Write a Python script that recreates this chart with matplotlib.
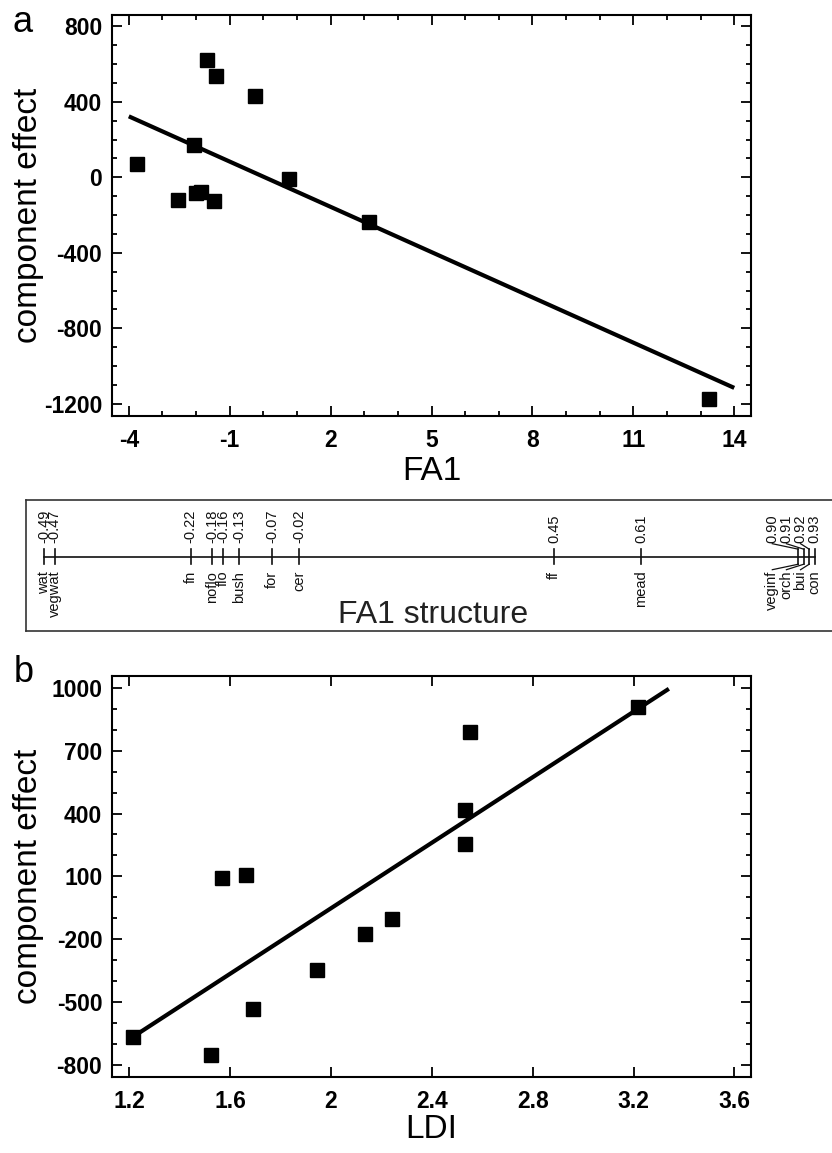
import numpy as np
import matplotlib
matplotlib.use("Agg")
import matplotlib.pyplot as plt
from matplotlib.ticker import MultipleLocator, FixedLocator, FuncFormatter

plt.rcParams['font.family'] = ['Liberation Sans', 'DejaVu Sans']

# --------------------------------- Data -------------------------------- #
# panel a : component effect vs FA1
fa1_x = [-3.76, -2.53, -2.06, -2.0, -1.86, -1.67, -1.41, -1.48, -0.26, 0.75, 3.13, 13.25]
fa1_y = [72, -118, 170, -83, -80, 620, 539, -125, 429, -9, -239, -1173]
fa1_fit_x = [-4, 14]
fa1_fit_y = [323, -1116]

# FA1 structure (loadings)
struct_names = ["wat", "vegwat", "fn", "noflo", "flo", "bush", "for", "cer",
                "ff", "mead", "veginf", "orch", "bui", "con"]
struct_vals = [-0.49, -0.47, -0.22, -0.18, -0.16, -0.13, -0.07, -0.02,
               0.45, 0.61, 0.90, 0.91, 0.92, 0.93]

# panel b : component effect vs LDI
ldi_x = [1.216, 1.523, 1.692, 1.944, 2.133, 2.24, 1.566, 1.661, 2.552, 2.53, 2.53, 3.216]
ldi_y = [-665, -752, -534, -347, -177, -104, 91, 106, 787, 417, 253, 909]
ldi_fit_x = [1.22, 3.34]
ldi_fit_y = [-661, 995]

# ------------------------------- Helpers ------------------------------- #
TICK_FS = 16.5
LABEL_FS = 24


def style_axes(ax):
    for s in ax.spines.values():
        s.set_linewidth(1.5)
    ax.tick_params(which='both', direction='in', top=True, right=True, width=1.3)
    ax.tick_params(which='major', length=7)
    ax.tick_params(which='minor', length=3.5)
    ax.tick_params(axis='y', pad=7)
    ax.tick_params(axis='x', pad=9)
    for lab in ax.get_xticklabels() + ax.get_yticklabels():
        lab.set_fontweight('bold')
        lab.set_fontsize(TICK_FS)
    fmt = FuncFormatter(lambda v, p: f"{v:g}")
    ax.xaxis.set_major_formatter(fmt)
    ax.yaxis.set_major_formatter(fmt)


fig = plt.figure(figsize=(8.32, 11.53), dpi=100)

# ------------------------------- Panel a ------------------------------- #
ax1 = fig.add_axes([0.1346, 0.6392, 0.7681, 0.3478])
ax1.plot(fa1_fit_x, fa1_fit_y, color='black', lw=3, solid_capstyle='butt')
ax1.plot(fa1_x, fa1_y, 's', color='black', ms=10)
ax1.set_xlim(-4.5, 14.5)
ax1.set_ylim(-1265, 860)
ax1.xaxis.set_major_locator(FixedLocator([-4, -1, 2, 5, 8, 11, 14]))
ax1.xaxis.set_minor_locator(MultipleLocator(1))
ax1.yaxis.set_major_locator(FixedLocator([-1200, -800, -400, 0, 400, 800]))
ax1.yaxis.set_minor_locator(MultipleLocator(100))
style_axes(ax1)
ax1.set_xlabel("FA1", fontsize=LABEL_FS, labelpad=3)
ax1.set_ylabel("component effect", fontsize=LABEL_FS)
ax1.yaxis.set_label_coords(-0.107, 0.5)

# ---------------------------- FA1 structure ---------------------------- #
axs = fig.add_axes([0.03125, 0.45273, 0.97, 0.11362])
axs.set_xlim(-0.5232, 0.9639)
axs.set_ylim(0, 131)
axs.set_xticks([])
axs.set_yticks([])
for k, s in axs.spines.items():
    s.set_linewidth(1.2)
    s.set_color('#333333')
axs.spines['right'].set_visible(False)

base = 74.3
tick_h = 7.5
txt_off = 14
col = '#111111'

# spread crowded labels (right to left)
lab_x = list(struct_vals)
for i in range(len(lab_x) - 2, -1, -1):
    if lab_x[i + 1] - lab_x[i] < 0.015:
        lab_x[i] = lab_x[i + 1] - 0.026

axs.plot([struct_vals[0], struct_vals[-1]], [base, base], color=col, lw=1.2)
for name, v, lx in zip(struct_names, struct_vals, lab_x):
    axs.plot([v, v], [base - tick_h, base + tick_h], color=col, lw=1.2)
    if abs(lx - v) > 1e-9:
        axs.plot([v, lx], [base + tick_h, base + txt_off - 1], color=col, lw=0.9)
        axs.plot([v, lx], [base - tick_h, base - txt_off + 1], color=col, lw=0.9)
    axs.text(lx, base + txt_off, f"{v:.2f}", rotation=90, ha='center', va='bottom',
             fontsize=10.5, color=col)
    axs.text(lx, base - txt_off, name, rotation=90, ha='center', va='top',
             fontsize=10.5, color=col)
axs.text(-0.49 + (433 - 44) / 542, 8, "FA1 structure", ha='center', va='baseline',
         fontsize=23, color='#222222')

# ------------------------------- Panel b ------------------------------- #
ax2 = fig.add_axes([0.1346, 0.0659, 0.7681, 0.3478])
ax2.plot(ldi_fit_x, ldi_fit_y, color='black', lw=3, solid_capstyle='butt')
ax2.plot(ldi_x, ldi_y, 's', color='black', ms=10)
ax2.set_xlim(1.131, 3.666)
ax2.set_ylim(-857, 1056)
ax2.xaxis.set_major_locator(FixedLocator([1.2, 1.6, 2.0, 2.4, 2.8, 3.2, 3.6]))
ax2.yaxis.set_major_locator(FixedLocator([-800, -500, -200, 100, 400, 700, 1000]))
ax2.yaxis.set_minor_locator(MultipleLocator(100))
style_axes(ax2)
ax2.set_xlabel("LDI", fontsize=LABEL_FS, labelpad=1)
ax2.set_ylabel("component effect", fontsize=LABEL_FS)
ax2.yaxis.set_label_coords(-0.107, 0.5)

# panel letters
fig.text(13 / 832, 1 - 32 / 1153, "a", fontsize=26, va='baseline')
fig.text(14 / 832, 1 - 682 / 1153, "b", fontsize=26, va='baseline')

fig.savefig("out.png", dpi=100)
